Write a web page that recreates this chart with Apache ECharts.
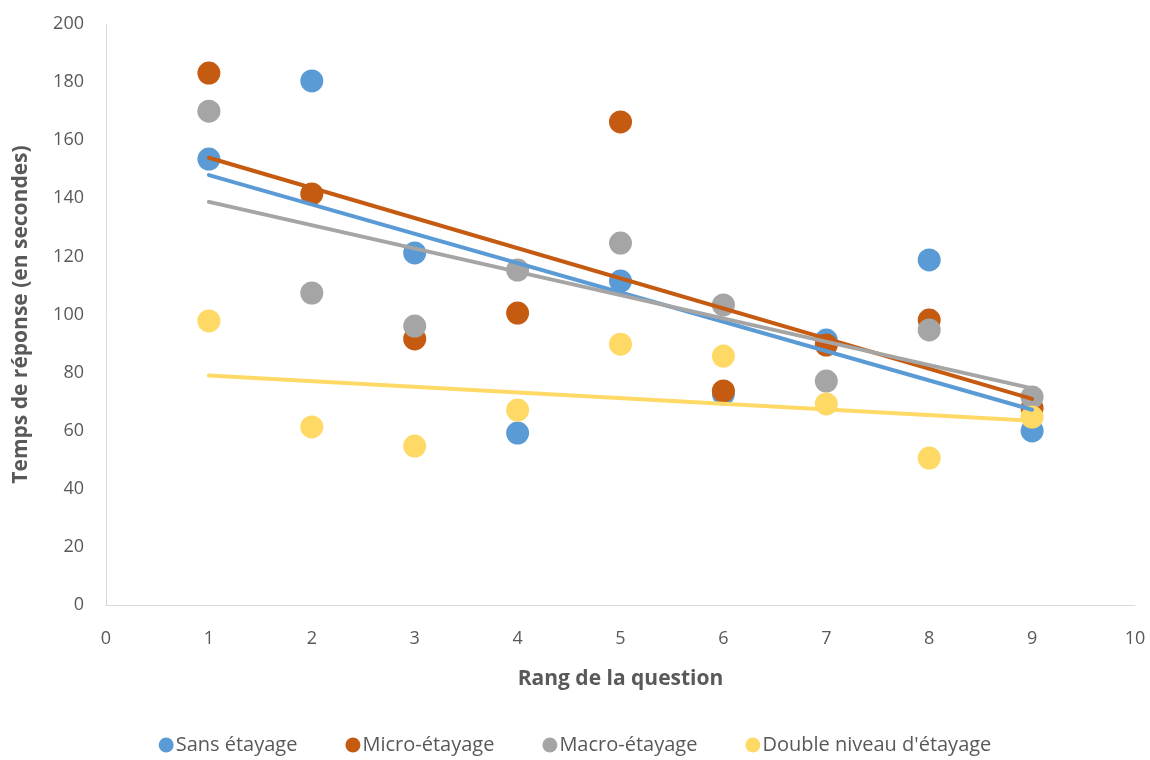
<!DOCTYPE html>
<html><head><meta charset="utf-8">
<script src="https://cdn.jsdelivr.net/npm/echarts@6/dist/echarts.min.js"></script>
<style>html,body{margin:0;padding:0;background:#fff}#c{width:1150px;height:760px}</style>
</head><body><div id="c"></div>
<script>
const questions = [1,2,3,4,5,6,7,8,9];
const seriesNames = ["Sans étayage","Micro-étayage","Macro-étayage","Double niveau d'étayage"];
const sansEtayage = [153.5,180.4,121.2,59.2,111.5,72.6,91.2,118.8,59.9];
const microEtayage = [183.1,141.5,91.6,100.5,166.3,73.7,89.5,98.1,67.8];
const macroEtayage = [170.0,107.4,96.0,115.3,124.6,103.3,77.1,94.7,71.6];
const doubleNiveau = [97.8,61.3,54.7,67.1,89.8,85.7,69.2,50.6,64.7];
const colors = ["#5b9bd5","#c55a11","#a5a5a5","#ffd966"];
const allValues = [sansEtayage, microEtayage, macroEtayage, doubleNiveau];

function trend(xs, ys){
  const n = xs.length;
  const mx = xs.reduce((a,b)=>a+b,0)/n, my = ys.reduce((a,b)=>a+b,0)/n;
  let sxy=0, sxx=0;
  for(let i=0;i<n;i++){sxy+=(xs[i]-mx)*(ys[i]-my); sxx+=(xs[i]-mx)**2;}
  const b = sxy/sxx, a = my - b*mx;
  const x0 = xs[0], x1 = xs[n-1];
  return [[x0, a+b*x0],[x1, a+b*x1]];
}

const txt = "#595959";
const series = [];
allValues.forEach((vals, i) => {
  series.push({
    name: seriesNames[i], type: 'scatter', symbolSize: 23, z: 2,
    itemStyle: {color: colors[i], opacity: 1},
    data: questions.map((q, j) => [q, vals[j]])
  });
});
allValues.forEach((vals, i) => {
  series.push({
    name: seriesNames[i] + ' (tendance)', type: 'line', showSymbol: false, symbol: 'none', z: 3,
    lineStyle: {color: colors[i], width: 4, cap: 'round'},
    data: trend(questions, vals), silent: true
  });
});

const chart = echarts.init(document.getElementById('c'), null, {renderer: 'canvas'});
chart.setOption({
  animation: false,
  textStyle: {fontFamily: 'Open Sans'},
  grid: {left: 106, right: 15, top: 24, bottom: 155},
  xAxis: {
    type: 'value', min: 0, max: 10, interval: 1,
    name: 'Rang de la question', nameLocation: 'middle', nameGap: 64,
    nameTextStyle: {color: txt, fontSize: 21, fontWeight: 'bold', fontFamily: 'Open Sans'},
    axisLine: {lineStyle: {color: '#d9d9d9', width: 1}},
    axisTick: {show: false},
    splitLine: {show: false},
    axisLabel: {color: txt, fontSize: 18, margin: 25, fontFamily: 'Open Sans'}
  },
  yAxis: {
    type: 'value', min: 0, max: 200, interval: 20,
    name: 'Temps de réponse (en secondes)', nameLocation: 'middle', nameGap: 74,
    nameTextStyle: {color: txt, fontSize: 21, fontWeight: 'bold', fontFamily: 'Open Sans'},
    axisLine: {show: true, lineStyle: {color: '#d9d9d9', width: 1}},
    axisTick: {show: false},
    splitLine: {show: false},
    axisLabel: {color: txt, fontSize: 18, margin: 22, fontFamily: 'Open Sans'}
  },
  legend: {
    data: seriesNames, bottom: 0, left: 'center', icon: 'circle',
    itemWidth: 15, itemHeight: 15, itemGap: 48,
    textStyle: {color: txt, fontSize: 20, fontFamily: 'Open Sans', padding: [0,0,0,-3]}
  },
  series: series
});
</script></body></html>
